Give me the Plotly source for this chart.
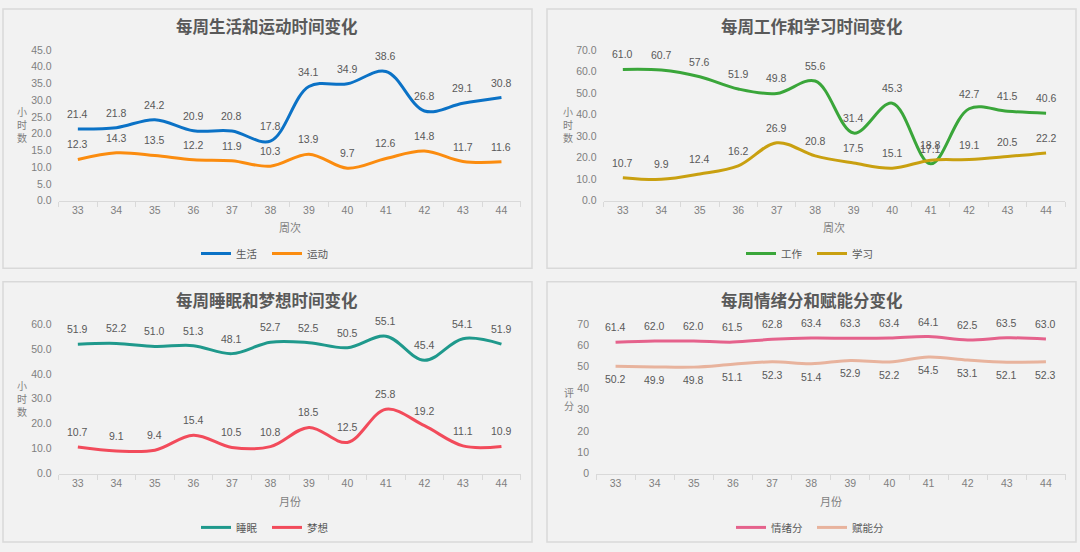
import plotly.graph_objects as go

weeks = ["33", "34", "35", "36", "37", "38", "39", "40", "41", "42", "43", "44"]

life = [21.4, 21.8, 24.2, 20.9, 20.8, 17.8, 34.1, 34.9, 38.6, 26.8, 29.1, 30.8]
sport = [12.3, 14.3, 13.5, 12.2, 11.9, 10.3, 13.9, 9.7, 12.6, 14.8, 11.7, 11.6]
work = [61.0, 60.7, 57.6, 51.9, 49.8, 55.6, 31.4, 45.3, 17.1, 42.7, 41.5, 40.6]
study = [10.7, 9.9, 12.4, 16.2, 26.9, 20.8, 17.5, 15.1, 18.8, 19.1, 20.5, 22.2]
sleep = [51.9, 52.2, 51.0, 51.3, 48.1, 52.7, 52.5, 50.5, 55.1, 45.4, 54.1, 51.9]
dream = [10.7, 9.1, 9.4, 15.4, 10.5, 10.8, 18.5, 12.5, 25.8, 19.2, 11.1, 10.9]
mood = [61.4, 62.0, 62.0, 61.5, 62.8, 63.4, 63.3, 63.4, 64.1, 62.5, 63.5, 63.0]
energy = [50.2, 49.9, 49.8, 51.1, 52.3, 51.4, 52.9, 52.2, 54.5, 53.1, 52.1, 52.3]

titles = ["每周生活和运动时间变化", "每周工作和学习时间变化", "每周睡眠和梦想时间变化", "每周情绪分和赋能分变化"]
xtitles = ["周次", "周次", "月份", "月份"]
ytitles = ["小时数", "小时数", "小时数", "评分"]

W, H = 1080, 552
FONT = "Liberation Sans, Noto Sans CJK SC, sans-serif"
CJK = "Noto Sans CJK SC, sans-serif"
TXT = "#595959"
TICK = "#7f7f7f"


def px(x):
    return x / W


def py(y):
    return 1 - y / H


panels = [
    dict(rect=(3, 3, 532, 268), plot=(58.6, 45, 520.7, 199), yr=45, dt=5, fmt=".1f",
         series=[("生活", life, "#0b72c6", 1), ("运动", sport, "#fb8c0f", 1)],
         ytx=22, yty=121, cx=267, ty=20, xty=226, lgy=253, ew=26),
    dict(rect=(547, 3, 1076, 268), plot=(603.6, 45, 1065.3, 199), yr=70, dt=10, fmt=".1f",
         series=[("工作", work, "#3aa63a", 1), ("学习", study, "#c9a010", 1)],
         ytx=568, yty=121, cx=812, ty=20, xty=226, lgy=253, ew=26),
    dict(rect=(3, 282, 532, 548), plot=(58.6, 325, 520.7, 478), yr=60, dt=10, fmt=".1f",
         series=[("睡眠", sleep, "#1f998c", 1), ("梦想", dream, "#f24b5b", 1)],
         ytx=22, yty=401, cx=267, ty=301, xty=506, lgy=533, ew=26),
    dict(rect=(547, 282, 1076, 548), plot=(596, 325, 1065.5, 478), yr=70, dt=10, fmt="d",
         series=[("情绪分", mood, "#e5628c", 1), ("赋能分", energy, "#e8b39d", -1)],
         ytx=569, yty=402, cx=812, ty=301, xty=506, lgy=533, ew=36),
]

fig = go.Figure()
layout = dict(
    width=W, height=H,
    margin=dict(l=0, r=0, t=0, b=0),
    paper_bgcolor="#f2f2f2",
    plot_bgcolor="rgba(0,0,0,0)",
    font=dict(family=FONT, color=TXT, size=11),
    shapes=[], annotations=[],
)

for i, p in enumerate(panels, start=1):
    sfx = "" if i == 1 else str(i)
    xa, ya = "x" + sfx, "y" + sfx
    lg = "legend" + sfx
    x0, y0, x1, y1 = p["plot"]
    layout["xaxis" + sfx] = dict(
        domain=[px(x0), px(x1)], anchor=ya, type="category",
        range=[-0.5, len(weeks) - 0.5], autorange=False,
        showline=True, linecolor="#d9d9d9", linewidth=1,
        ticks="outside", tickson="boundaries", ticklen=5, tickcolor="#d9d9d9",
        showgrid=False, zeroline=False, tickangle=0, dtick=1,
        tickfont=dict(size=10.5, color=TICK, family=FONT),
    )
    layout["yaxis" + sfx] = dict(
        domain=[py(y1), py(y0)], anchor=xa, range=[0, p["yr"]], dtick=p["dt"],
        tickformat=p["fmt"], showgrid=False, zeroline=False, showline=False,
        ticks="", ticklabelstandoff=6,
        tickfont=dict(size=10.5, color=TICK, family=FONT),
    )
    layout[lg] = dict(
        orientation="h", x=px(p["cx"]), y=py(p["lgy"]), xanchor="center", yanchor="middle",
        bgcolor="rgba(0,0,0,0)", font=dict(size=10.5, color=TXT, family=CJK),
        itemwidth=30, tracegroupgap=0, entrywidth=p["ew"], entrywidthmode="pixels",
    )
    rx0, ry0, rx1, ry1 = p["rect"]
    layout["shapes"].append(dict(
        type="rect", xref="paper", yref="paper",
        x0=px(rx0), x1=px(rx1), y0=py(ry1), y1=py(ry0),
        line=dict(color="#d9d9d9", width=1.5), fillcolor="#f2f2f2", layer="below",
    ))
    layout["annotations"].append(dict(
        text=titles[i - 1], xref="paper", yref="paper", x=px(p["cx"]), y=py(p["ty"]),
        xanchor="center", yanchor="middle", showarrow=False,
        font=dict(size=16.5, color=TXT, family=CJK, weight=600),
    ))
    layout["annotations"].append(dict(
        text=xtitles[i - 1], xref="paper", yref="paper", x=(px(x0) + px(x1)) / 2, y=py(p["xty"]),
        xanchor="center", yanchor="middle", showarrow=False,
        font=dict(size=11, color=TICK, family=CJK),
    ))
    layout["annotations"].append(dict(
        text="<br>".join(ytitles[i - 1]), xref="paper", yref="paper",
        x=px(p["ytx"]), y=py(p["yty"]),
        xanchor="center", yanchor="middle", showarrow=False, align="center",
        font=dict(size=10, color=TICK, family=CJK),
    ))
    for name, vals, color, side in p["series"]:
        fig.add_trace(go.Scatter(
            x=weeks, y=vals, name=name, mode="lines",
            line=dict(color=color, width=3, shape="spline", smoothing=1.0),
            xaxis=xa, yaxis=ya, legend=lg, hoverinfo="skip",
        ))
        for idx, v in enumerate(vals):
            layout["annotations"].append(dict(
                text=f"{v:.1f}", x=idx, y=v, xref=xa, yref=ya, showarrow=False,
                yshift=15 if side > 0 else -13, xanchor="center", yanchor="middle",
                font=dict(size=10.5, color=TXT, family=FONT),
            ))

fig.update_layout(**layout)
fig.write_html(
    "out.html",
    config={"displayModeBar": False},
    post_script="document.body.style.margin='0';document.body.style.overflow='hidden';",
)
